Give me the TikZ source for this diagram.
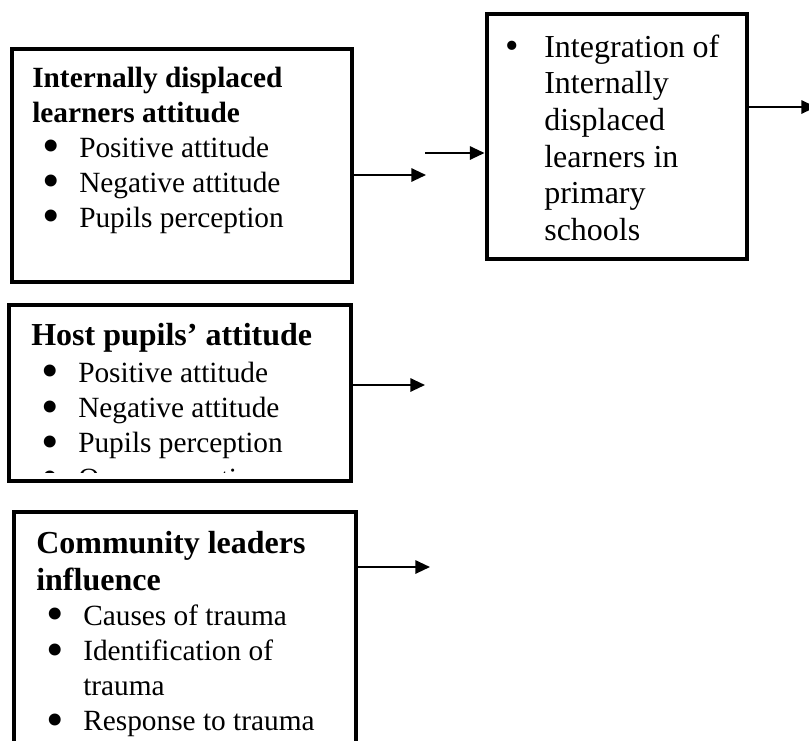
\documentclass[tikz,border=0pt]{standalone}
\usepackage{fontspec}
\setmainfont{Liberation Serif}
\usetikzlibrary{arrows.meta}

\newcommand{\bigbullet}{\smash{\raisebox{-4.2pt}{\scalebox{1.7}{\textbullet}}}}
\newcommand{\bulletline}[1]{\hspace*{7.5pt}\makebox[27.75pt][l]{\bigbullet}#1}
\newcommand{\hangline}[1]{\hspace*{35.25pt}#1}

\begin{document}
\begin{tikzpicture}[
        x=0.75pt,
        y=-0.75pt,
        factorBox/.style={
            draw,
            line width=3pt,
            inner sep=0pt
        },
        boxText/.style={
            anchor=north west,
            align=left,
            inner sep=0pt
        },
        link/.style={
            line width=1.5pt,
            -{Triangle[length=11pt,width=10pt]}
        }
    ]

        \useasboundingbox (0,0) rectangle (809,740);
        \clip (0,0) rectangle (809,740);

        \node[factorBox, minimum width=255pt, minimum height=175.1pt] (learners) at (181.5,165.75) {};
        \node[factorBox, minimum width=195pt, minimum height=183.4pt] (integration) at (616.5,136.75) {};
        \node[factorBox, minimum width=256.5pt, minimum height=132pt] (hosts) at (180,393) {};
        \node[factorBox, minimum width=256.5pt, minimum height=201pt] (leaders) at (185,646) {};

        \node[boxText, font=\fontsize{22}{26.25}\selectfont] (learnersText) at (32,63) {%
            \rule{0pt}{18pt}\textbf{Internally displaced}\\
            \textbf{learners attitude}\\
            \bulletline{Positive attitude}\\
            \bulletline{Negative attitude}\\
            \bulletline{Pupils perception}};

        \node[boxText, font=\fontsize{24}{27.45}\selectfont] (integrationText) at (505.4,33) {%
            \rule{0pt}{18pt}\makebox[29pt][l]{\smash{\raisebox{-1.1pt}{\scalebox{1.2}{\textbullet}}}}Integration of\\
            \hspace*{29pt}Internally\\
            \hspace*{29pt}displaced\\
            \hspace*{29pt}learners in\\
            \hspace*{29pt}primary\\
            \hspace*{29pt}schools};

        \begin{scope}
            \clip (hosts.north west) rectangle (351,472);
            \node[boxText, font=\fontsize{22}{26.5}\selectfont] (hostsText) at (31,321) {%
                \rule{0pt}{18pt}{\fontsize{24}{27}\selectfont\bfseries Host pupils' attitude}\\[1.25pt]
                \bulletline{Positive attitude}\\
                \bulletline{Negative attitude}\\
                \bulletline{Pupils perception}\\
                \bulletline{Own perception}};
        \end{scope}

        \node[boxText, font=\fontsize{22}{26.3}\selectfont] (leadersText) at (36,529) {%
            \rule{0pt}{18pt}{\fontsize{24}{27}\selectfont\bfseries Community leaders}\\[1.45pt]
            {\fontsize{24}{27}\selectfont\bfseries influence}\\
            \bulletline{Causes of trauma}\\
            \bulletline{Identification of}\\
            \hangline{trauma}\\
            \bulletline{Response to trauma}};

        \coordinate (learnersEnd) at (426,175);
        \coordinate (integrationStart) at (425,153);
        \coordinate (integrationEnd) at (816,107);
        \coordinate (hostsEnd) at (425,385);
        \coordinate (leadersEnd) at (430,567);

        \draw[link] (learners.east |- learnersEnd) -- (learnersEnd);
        \draw[link] (integrationStart) -- (integration.west |- integrationStart);
        \draw[link] (integration.east |- integrationEnd) -- (integrationEnd);
        \draw[link] (hosts.east |- hostsEnd) -- (hostsEnd);
        \draw[link] (leaders.east |- leadersEnd) -- (leadersEnd);

    \end{tikzpicture}
\end{document}
